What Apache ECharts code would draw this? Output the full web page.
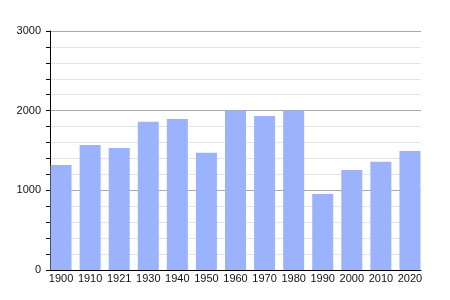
<!DOCTYPE html>
<html><head><meta charset="utf-8">
<script src="https://cdn.jsdelivr.net/npm/echarts@6/dist/echarts.min.js"></script>
<style>html,body{margin:0;padding:0;background:#fff}#c{width:450px;height:300px}</style>
</head><body><div id="c"></div>
<script>
var years = ['1900','1910','1921','1930','1940','1950','1960','1970','1980','1990','2000','2010','2020'];
var population = [1318, 1569, 1531, 1860, 1895, 1472, 2000, 1933, 2003, 954, 1255, 1359, 1494];
var yTicks = [0, 1000, 2000, 3000];

var chart = echarts.init(document.getElementById('c'), null, {renderer: 'canvas'});
var font = 'Liberation Sans, Arial, sans-serif';
chart.setOption({
  animation: false,
  backgroundColor: '#fff',
  grid: {left: 50, right: 29, top: 31, bottom: 30, containLabel: false},
  xAxis: {
    type: 'value', min: -0.38, max: 12.38,
    axisLine: {show: true, onZero: false, lineStyle: {color: '#000', width: 1}},
    axisTick: {show: false},
    splitLine: {show: false},
    axisLabel: {
      color: '#111', fontSize: 11, fontFamily: font, margin: 3,
      customValues: years.map(function (y, i) { return i; }),
      formatter: function (v) {
        var i = Math.round(v);
        return years[i] || '';
      }
    }
  },
  yAxis: {
    type: 'value', min: yTicks[0], max: yTicks[yTicks.length - 1], interval: 1000,
    axisLine: {show: true, onZero: false, lineStyle: {color: '#000', width: 1}},
    axisTick: {show: true, length: 4, lineStyle: {color: '#000'}},
    minorTick: {show: true, splitNumber: 5, length: 4, lineStyle: {color: '#000'}},
    splitLine: {show: true, lineStyle: {color: '#aaaaaa', width: 1}},
    minorSplitLine: {show: true, lineStyle: {color: '#e4e4e4', width: 1}},
    axisLabel: {color: '#111', fontSize: 11, fontFamily: font, margin: 9,
      formatter: function (v) { return String(v); }}
  },
  series: [{
    type: 'bar',
    barWidth: 21,
    itemStyle: {color: '#9bb2fd'},
    data: population.map(function (v, i) { return [i, v]; })
  }]
});
</script></body></html>
